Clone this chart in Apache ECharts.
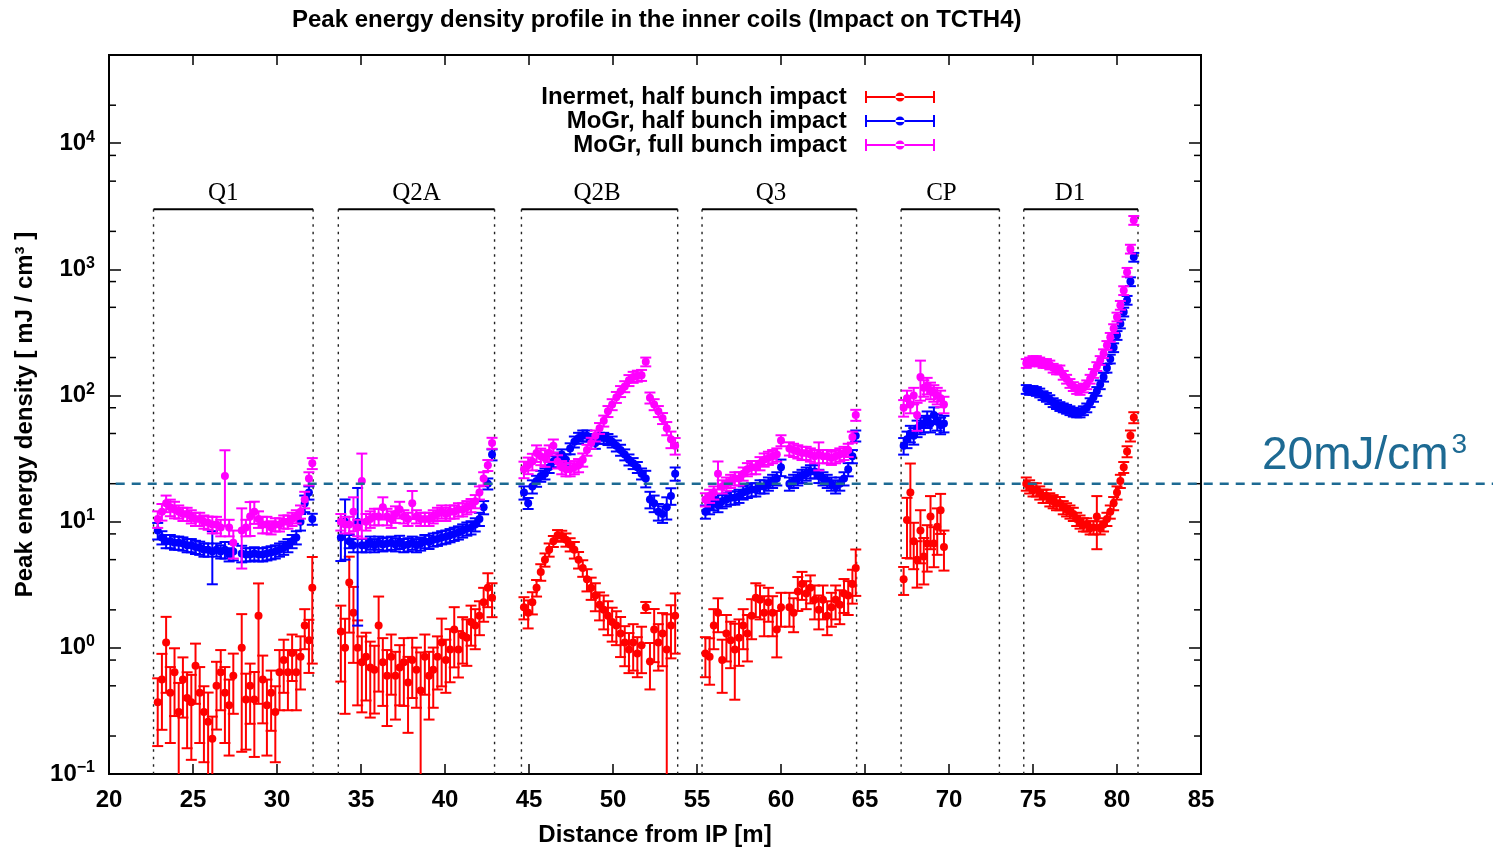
<!DOCTYPE html>
<html><head><meta charset="utf-8">
<script src="https://cdn.jsdelivr.net/npm/echarts@6/dist/echarts.min.js"></script>
<style>html,body{margin:0;padding:0;background:#fff}#chart{width:1493px;height:848px}</style>
</head><body><div id="chart"></div>
<script>
// ---------- DATA ----------
const seriesNames = ['Inermet, half bunch impact', 'MoGr, half bunch impact', 'MoGr, full bunch impact'];
const seriesColors = ['#ff0000', '#0000ff', '#ff00ff'];

const magnetNames = ['Q1', 'Q2A', 'Q2B', 'Q3', 'CP', 'D1'];
const magnetStart = [22.65, 33.65, 44.55, 55.3, 67.15, 74.45];
const magnetEnd   = [32.15, 42.95, 53.85, 64.5, 73.0, 81.25];
const magnetLabelAt = [26.8, 38.3, 49.05, 59.4, 69.55, 77.2];
const magnetLevel = 3000;

const yMinorTicks = [0.2, 0.5, 0.8, 2, 5, 8, 20, 50, 80, 200, 500, 800, 2000, 5000, 8000, 20000];
const thresholdValue = 20;
const thresholdStart = 20.4;
const thresholdText = '20mJ/cm';
const thresholdSup = '3';

// Q1
const distQ1 = [22.9,23.15,23.4,23.65,23.9,24.15,24.4,24.65,24.9,25.15,25.4,25.65,25.9,26.15,26.4,26.65,26.9,27.15,27.4,
  27.9,28.15,28.4,28.65,28.9,29.15,29.4,29.65,29.9,30.15,30.4,30.65,30.9,31.15,31.4,31.65,31.9,32.1];
const inermetQ1 = [0.37,0.56,1.1,0.44,0.64,0.31,0.56,0.4,0.37,0.72,0.44,0.31,0.26,0.19,0.5,0.64,0.44,0.35,0.6,
  1.0,0.39,0.5,0.39,1.8,0.56,0.35,0.44,0.31,0.64,0.8,0.64,0.91,0.64,0.85,1.5,1.15,3.0];
const inermetErrQ1 = [0.55,0.6,0.6,0.6,0.55,0.7,0.5,0.6,0.65,0.5,0.6,0.6,0.7,0.5,0.55,0.5,0.6,0.6,0.5,
  0.85,0.6,0.5,0.65,0.8,0.55,0.6,0.5,0.6,0.5,0.45,0.5,0.4,0.5,0.45,0.35,0.45,0.75];
const mogrHalfQ1 = [8.5,7.5,7,7,6.8,6.8,6.7,6.5,6.5,6.3,6.2,6,6,5.8,6,5.8,6,5.5,5.8,
  5.6,5.5,5.5,5.6,5.5,5.5,5.6,5.7,5.8,6,6.2,6.5,7,7.5,10,14,17,10.5];
const mogrHalfErrQ1 = [0.15,0.12,0.12,0.12,0.12,0.12,0.12,0.12,0.12,0.12,0.12,0.12,0.12,0.45,0.12,0.12,0.15,0.12,0.15,
  0.15,0.12,0.12,0.12,0.12,0.12,0.12,0.12,0.12,0.12,0.12,0.12,0.12,0.12,0.15,0.15,0.12,0.1];
const mogrFullQ1 = [10.5,12,14,13,12.5,12,11.5,11.5,11,10.5,10.5,10,9.8,9.5,9.5,9,23,9,6.8,
  8.5,9,11,12,10.5,9.5,9.5,9,9.5,9.5,10,10,10.5,11,12,15,22,29];
const mogrFullErrQ1 = [0.15,0.15,0.15,0.15,0.15,0.12,0.12,0.12,0.12,0.12,0.12,0.12,0.12,0.15,0.15,0.15,0.6,0.15,0.25,
  0.5,0.15,0.3,0.2,0.15,0.15,0.15,0.12,0.12,0.12,0.12,0.12,0.12,0.12,0.12,0.15,0.12,0.1];

// Q2A
const distQ2A = [33.8,34.05,34.3,34.55,34.8,35.05,35.3,35.55,35.8,36.05,36.3,36.55,36.8,37.05,37.3,37.55,37.8,38.05,38.3,
  38.55,38.8,39.05,39.3,39.55,39.8,40.05,40.3,40.55,40.8,41.05,41.3,41.55,41.8,42.05,42.3,42.55,42.8];
const inermetQ2A = [1.35,1.0,3.3,1.9,1.0,0.77,0.85,0.7,0.67,1.5,0.77,0.6,0.85,0.6,0.7,0.77,0.53,0.8,0.67,
  0.46,0.85,0.6,0.67,0.85,1.1,0.8,0.97,1.4,0.97,1.25,1.2,1.6,1.5,1.8,2.3,3.0,2.5];
const inermetErrQ2A = [0.6,0.7,0.6,0.6,0.65,0.6,0.55,0.6,0.55,0.7,0.55,0.6,0.5,0.55,0.5,0.55,0.6,0.5,0.5,
  1.0,0.5,0.55,0.5,0.45,0.55,0.45,0.45,0.5,0.4,0.4,0.4,0.35,0.35,0.3,0.3,0.3,0.3];
const mogrHalfQ2A = [7.5,10,7,6.5,10,6.5,6.5,6.8,6.5,6.8,6.6,6.7,6.8,6.6,6.9,6.5,6.6,6.8,6.5,
  6.7,7,6.9,7.2,7.3,7.5,7.6,7.8,8,8.2,8.5,8.8,9,9.5,10.5,13,20,34];
const mogrHalfErrQ2A = [0.35,0.5,0.12,0.12,0.85,0.12,0.12,0.12,0.12,0.12,0.12,0.12,0.12,0.12,0.12,0.12,0.12,0.12,0.12,
  0.12,0.12,0.12,0.12,0.12,0.12,0.12,0.12,0.12,0.12,0.12,0.12,0.12,0.12,0.12,0.12,0.1,0.1];
const mogrFullQ2A = [10,9.5,9.5,12,9,21,10,10.5,11,11,13,11,10.5,11.5,12.5,11,10.5,14,11,
  10.5,10.5,10.5,11,11.5,12,11.5,12,12,12.5,12.5,13,13.5,14.5,17,22,28,42];
const mogrFullErrQ2A = [0.15,0.15,0.15,0.3,0.15,0.65,0.15,0.15,0.15,0.15,0.2,0.15,0.15,0.15,0.15,0.12,0.12,0.25,0.12,
  0.12,0.12,0.12,0.12,0.12,0.12,0.12,0.12,0.12,0.12,0.12,0.12,0.12,0.12,0.12,0.12,0.1,0.1];

// Q2B
const distQ2B = [44.7,44.95,45.2,45.45,45.7,45.95,46.2,46.45,46.7,46.95,47.2,47.45,47.7,47.95,48.2,48.45,48.7,48.95,49.2,
  49.45,49.7,49.95,50.2,50.45,50.7,50.95,51.2,51.45,51.7,51.95,52.2,52.45,52.7,52.95,53.2,53.45,53.7];
const inermetQ2B = [2.1,1.9,2.3,3.0,4.0,5.0,6.0,7.0,7.8,7.7,7.2,6.6,6.0,5.0,4.3,3.5,3.0,2.6,2.2,
  2.0,1.8,1.6,1.5,1.3,1.1,0.97,1.1,0.9,1.05,2.1,0.78,1.4,1.1,1.3,0.97,1.5,1.8];
const inermetErrQ2B = [0.2,0.25,0.2,0.15,0.15,0.12,0.12,0.1,0.1,0.1,0.12,0.12,0.15,0.15,0.15,0.2,0.2,0.25,0.25,
  0.3,0.3,0.3,0.3,0.35,0.35,0.35,0.4,0.35,0.4,0.1,0.4,0.45,0.4,0.45,0.9,0.45,0.5];
const mogrHalfQ2B = [17,14,19,21,23,24,27,30,32,34,31,38,43,46,48,48,45,42,46,
  46,45,43,40,37,34,31,29,27,24,22,15,14,12,11.5,13,16,24];
const mogrHalfErrQ2B = [0.12,0.1,0.12,0.1,0.1,0.1,0.1,0.1,0.1,0.1,0.1,0.1,0.1,0.1,0.1,0.1,0.1,0.1,0.1,
  0.1,0.1,0.1,0.1,0.1,0.1,0.1,0.1,0.1,0.1,0.15,0.15,0.15,0.15,0.15,0.2,0.15,0.12];
const mogrFullQ2B = [26,28,30,35,33,32,35,40,30,27,26,26,27,28,31,37,42,48,55,
  63,75,85,97,108,118,132,140,143,145,185,96,85,75,66,55,45,40];
const mogrFullErrQ2B = [0.15,0.15,0.15,0.15,0.15,0.15,0.15,0.12,0.12,0.12,0.12,0.12,0.12,0.12,0.12,0.1,0.1,0.1,0.1,
  0.1,0.1,0.1,0.1,0.1,0.1,0.1,0.1,0.1,0.1,0.08,0.1,0.1,0.1,0.1,0.12,0.15,0.15];

// Q3
const distQ3 = [55.5,55.75,56.0,56.25,56.5,56.75,57.0,57.25,57.5,57.75,58.0,58.25,58.5,58.75,59.0,59.25,59.5,59.75,60.0,
  60.5,60.75,61.0,61.25,61.5,61.75,62.0,62.25,62.5,62.75,63.0,63.25,63.5,63.75,64.0,64.25,64.45];
const inermetQ3 = [0.9,0.85,1.5,1.9,0.8,1.3,1.15,0.97,1.2,1.5,1.3,1.8,2.5,2.4,1.9,2.3,1.9,1.4,2.1,
  2.1,1.9,2.8,3.2,2.7,3.0,2.4,2.0,2.4,1.8,2.1,2.4,2.2,2.7,2.6,3.2,4.3];
const inermetErrQ3 = [0.35,0.4,0.35,0.3,0.45,0.4,0.4,0.6,0.4,0.35,0.4,0.35,0.3,0.3,0.35,0.3,0.35,0.4,0.3,
  0.3,0.3,0.3,0.25,0.25,0.25,0.3,0.3,0.3,0.3,0.3,0.3,0.3,0.3,0.3,0.3,0.4];
const mogrHalfQ3 = [12,13,14,13.5,14.5,15,15.5,15.5,16,17,17.5,18,18,19,19,20,21,22,27,
  20,21,22,23,24,25,25,23,22,21,20,19,20,22,26,33,48];
const mogrHalfErrQ3 = [0.12,0.12,0.12,0.12,0.12,0.12,0.12,0.12,0.12,0.12,0.12,0.12,0.12,0.12,0.12,0.12,0.12,0.12,0.15,
  0.12,0.12,0.12,0.12,0.12,0.12,0.12,0.12,0.12,0.12,0.12,0.12,0.12,0.12,0.12,0.12,0.1];
const mogrFullQ3 = [15,16,17,24,19,20,21,22,22,24,26,27,27,29,31,32,33,34,44,
  38,37,36,35,35,34,33,34,33,33,32,33,34,35,37,47,70];
const mogrFullErrQ3 = [0.12,0.12,0.12,0.25,0.12,0.12,0.12,0.12,0.12,0.12,0.12,0.12,0.12,0.12,0.12,0.12,0.12,0.12,0.1,
  0.12,0.12,0.12,0.12,0.12,0.12,0.12,0.25,0.12,0.12,0.12,0.12,0.12,0.12,0.12,0.1,0.1];

// CP
const distCP = [67.3,67.5,67.7,67.9,68.1,68.3,68.5,68.7,68.9,69.1,69.3,69.5,69.7];
const inermetCP = [3.5,10.3,17,7,5,8.5,5.3,6.7,11,6.7,9.1,12.3,6.3];
const inermetErrCP = [0.25,0.5,0.7,0.4,0.4,0.45,0.4,0.4,0.45,0.35,0.4,0.35,0.35];
const mogrHalfCP = [40,45,50,48,55,58,60,65,60,70,62,58,60];
const mogrHalfErrCP = [0.15,0.15,0.15,0.15,0.15,0.15,0.15,0.15,0.15,0.15,0.15,0.15,0.15];
const mogrFullCP = [80,95,85,100,70,140,115,120,110,105,100,95,85];
const mogrFullErrCP = [0.15,0.15,0.15,0.15,0.25,0.35,0.15,0.15,0.15,0.15,0.15,0.15,0.15];

// D1
const distD1 = [74.6,74.8,75.0,75.2,75.4,75.6,75.8,76.0,76.2,76.4,76.6,76.8,77.0,77.2,77.4,77.6,77.8,78.0,78.2,
  78.4,78.6,78.8,79.0,79.2,79.4,79.6,79.8,80.0,80.2,80.4,80.6,80.8,81.0];
const inermetD1 = [20,19,18,18,17,16,16,15,14.5,14,14,13,12.5,12,11.5,10.5,10,9.5,9.5,
  9,9,11,9,9.5,10.5,12,14,17,21,27,36,48,67];
const inermetErrD1 = [0.12,0.12,0.12,0.12,0.12,0.12,0.12,0.12,0.12,0.12,0.12,0.12,0.12,0.12,0.12,0.12,0.12,0.12,0.12,
  0.12,0.12,0.45,0.12,0.12,0.12,0.12,0.12,0.12,0.12,0.1,0.1,0.1,0.1];
const mogrHalfD1 = [112,110,110,108,105,100,97,93,88,85,82,80,78,76,74,73,73,76,80,
  88,97,108,122,140,165,195,240,300,370,460,570,800,1250];
const mogrHalfErrD1 = [0.08,0.08,0.08,0.08,0.08,0.08,0.08,0.08,0.08,0.08,0.08,0.08,0.08,0.08,0.08,0.08,0.08,0.08,0.08,
  0.08,0.08,0.08,0.08,0.08,0.08,0.08,0.08,0.08,0.08,0.08,0.08,0.08,0.08];
const mogrFullD1 = [180,185,190,190,185,180,180,175,165,160,160,145,135,125,118,112,110,115,122,
  135,150,170,190,215,250,290,340,420,520,680,950,1450,2450];
const mogrFullErrD1 = [0.08,0.08,0.08,0.08,0.08,0.08,0.08,0.08,0.08,0.08,0.08,0.08,0.08,0.08,0.08,0.08,0.08,0.08,0.08,
  0.08,0.08,0.08,0.08,0.08,0.08,0.08,0.08,0.08,0.08,0.08,0.08,0.08,0.08];

// ---------- BUILD ----------
const sections = [
  [distQ1, [inermetQ1, inermetErrQ1], [mogrHalfQ1, mogrHalfErrQ1], [mogrFullQ1, mogrFullErrQ1]],
  [distQ2A, [inermetQ2A, inermetErrQ2A], [mogrHalfQ2A, mogrHalfErrQ2A], [mogrFullQ2A, mogrFullErrQ2A]],
  [distQ2B, [inermetQ2B, inermetErrQ2B], [mogrHalfQ2B, mogrHalfErrQ2B], [mogrFullQ2B, mogrFullErrQ2B]],
  [distQ3, [inermetQ3, inermetErrQ3], [mogrHalfQ3, mogrHalfErrQ3], [mogrFullQ3, mogrFullErrQ3]],
  [distCP, [inermetCP, inermetErrCP], [mogrHalfCP, mogrHalfErrCP], [mogrFullCP, mogrFullErrCP]],
  [distD1, [inermetD1, inermetErrD1], [mogrHalfD1, mogrHalfErrD1], [mogrFullD1, mogrFullErrD1]]
];
function buildData(k) {
  const out = [];
  sections.forEach(sec => {
    const dist = sec[0], vals = sec[k + 1][0], errs = sec[k + 1][1];
    dist.forEach((x, i) => {
      const v = vals[i];
      if (v == null) return;
      const e = (errs[i] == null ? 0.1 : errs[i]) * v;
      out.push([x, v, v - e, v + e]);
    });
  });
  return out;
}

const FONT = '"Liberation Sans", Arial, Helvetica, sans-serif';
const SERIF = '"Liberation Serif", "Times New Roman", serif';
const THR_COLOR = '#1d6a93';

function errRenderer(color) {
  return function (params, api) {
    const cs = params.coordSys;
    const x = api.value(0), y = api.value(1), lo = api.value(2), hi = api.value(3);
    const p = api.coord([x, y]);
    const pHi = api.coord([x, hi]);
    const loOk = lo > 0;
    const yLo = loOk ? api.coord([x, lo])[1] : cs.y + cs.height + 40;
    const st = { stroke: color, lineWidth: 2, fill: null };
    const cap = 5.5;
    const children = [
      { type: 'line', shape: { x1: p[0], y1: pHi[1], x2: p[0], y2: yLo }, style: st },
      { type: 'line', shape: { x1: p[0] - cap, y1: pHi[1], x2: p[0] + cap, y2: pHi[1] }, style: st },
      { type: 'circle', shape: { cx: p[0], cy: p[1], r: 4 }, style: { fill: color } }
    ];
    if (loOk) children.push({ type: 'line', shape: { x1: p[0] - cap, y1: yLo, x2: p[0] + cap, y2: yLo }, style: st });
    return { type: 'group', children };
  };
}

function magnetRenderer(params, api) {
  const cs = params.coordSys;
  const i = api.value(2);
  const s = api.coord([api.value(0), magnetLevel]);
  const e = api.coord([api.value(1), magnetLevel]);
  const t = api.coord([api.value(3), magnetLevel]);
  const bottom = cs.y + cs.height;
  const dot = { stroke: '#222', lineWidth: 1.4, lineDash: [2.5, 5] };
  return {
    type: 'group',
    children: [
      { type: 'line', shape: { x1: s[0], y1: s[1], x2: s[0], y2: bottom }, style: dot },
      { type: 'line', shape: { x1: e[0], y1: s[1], x2: e[0], y2: bottom }, style: dot },
      { type: 'line', shape: { x1: s[0], y1: s[1], x2: e[0], y2: e[1] }, style: { stroke: '#000', lineWidth: 2 } },
      { type: 'text', x: t[0], y: s[1] - 3,
        style: { text: magnetNames[i], font: '25px ' + SERIF, fill: '#000', align: 'center', verticalAlign: 'bottom' } }
    ]
  };
}

function minorTickRenderer(params, api) {
  const cs = params.coordSys;
  const y = api.coord([api.value(0), api.value(1)])[1];
  const st = { stroke: '#000', lineWidth: 1.5 };
  return {
    type: 'group',
    children: [
      { type: 'line', shape: { x1: cs.x, y1: y, x2: cs.x + 7, y2: y }, style: st },
      { type: 'line', shape: { x1: cs.x + cs.width - 7, y1: y, x2: cs.x + cs.width, y2: y }, style: st }
    ]
  };
}

const errIcon = 'path://M0,0h2v12h-2z M0,5h70v2h-70z M68,0h2v12h-2z M30.5,6a4.5,4.5 0 1,0 9,0a4.5,4.5 0 1,0 -9,0z';

function yLabel(v) {
  const l = Math.log10(v), e = Math.round(l);
  if (Math.abs(l - e) > 1e-6) return '';
  return '{b|10}{s|' + (e < 0 ? '\u2212' + (-e) : e) + '}';
}

const chart = echarts.init(document.getElementById('chart'), null, { renderer: 'canvas' });

const option = {
  animation: false,
  backgroundColor: '#fff',
  title: {
    text: 'Peak energy density profile in the inner coils (Impact on TCTH4)',
    left: 287, top: 3,
    textStyle: { fontFamily: FONT, fontWeight: 'bold', fontSize: 24, color: '#000' }
  },
  legend: {
    orient: 'vertical', align: 'right', right: 553, top: 80,
    itemWidth: 70, itemHeight: 12, itemGap: 0,
    selectedMode: false,
    formatter: n => n + '  ',
    textStyle: { fontFamily: FONT, fontWeight: 'bold', fontSize: 24, color: '#000' },
    data: seriesNames.map(n => ({ name: n, icon: errIcon }))
  },
  grid: {
    left: 109, right: 292, top: 55, bottom: 74,
    show: true, borderColor: '#000', borderWidth: 2, backgroundColor: 'transparent',
    outerBoundsMode: 'none', containLabel: false
  },
  xAxis: [
    {
      type: 'value', min: 20, max: 85, interval: 5, position: 'bottom',
      name: 'Distance from IP [m]', nameLocation: 'middle', nameGap: 49,
      nameTextStyle: { fontFamily: FONT, fontWeight: 'bold', fontSize: 24, color: '#000' },
      axisLine: { show: true, lineStyle: { color: '#000', width: 2 } },
      axisTick: { show: true, inside: true, length: 10, lineStyle: { color: '#000', width: 1.5 } },
      axisLabel: { fontFamily: FONT, fontWeight: 'bold', fontSize: 24, color: '#000', margin: 14 },
      splitLine: { show: false }
    },
    {
      type: 'value', min: 20, max: 85, interval: 5, position: 'top',
      axisLine: { show: true, lineStyle: { color: '#000', width: 2 } },
      axisTick: { show: true, inside: true, length: 10, lineStyle: { color: '#000', width: 1.5 } },
      axisLabel: { show: false },
      splitLine: { show: false }
    }
  ],
  yAxis: [
    {
      type: 'log', logBase: 10, min: 0.1, max: 50000, position: 'left',
      name: 'Peak energy density [ mJ / cm³ ]', nameLocation: 'middle', nameGap: 72,
      nameTextStyle: { fontFamily: FONT, fontWeight: 'bold', fontSize: 24, color: '#000' },
      axisLine: { show: true, lineStyle: { color: '#000', width: 2 } },
      axisTick: { show: true, inside: true, length: 12, lineStyle: { color: '#000', width: 1.5 } },
      axisLabel: {
        formatter: yLabel, margin: 14,
        rich: {
          b: { fontFamily: FONT, fontWeight: 'bold', fontSize: 24, color: '#000' },
          s: { fontFamily: FONT, fontWeight: 'bold', fontSize: 16, color: '#000', verticalAlign: 'top', padding: [0, 0, 12, 0] }
        }
      },
      splitLine: { show: false }
    },
    {
      type: 'log', logBase: 10, min: 0.1, max: 50000, position: 'right',
      axisLine: { show: true, lineStyle: { color: '#000', width: 2 } },
      axisTick: { show: true, inside: true, length: 12, lineStyle: { color: '#000', width: 1.5 } },
      axisLabel: { show: false },
      splitLine: { show: false }
    }
  ],
  series: [
    {
      type: 'custom', name: 'minorTicks', silent: true, clip: false,
      renderItem: minorTickRenderer,
      encode: { x: 0, y: 1 },
      data: yMinorTicks.map(v => [20, v]),
      z: 5
    },
    {
      type: 'custom', name: 'magnets', silent: true, clip: false,
      renderItem: magnetRenderer,
      encode: { x: [0, 1] },
      data: magnetNames.map((n, i) => [magnetStart[i], magnetEnd[i], i, magnetLabelAt[i]]),
      z: 1
    }
  ].concat(seriesNames.map((n, k) => ({
    type: 'custom', name: n, clip: true,
    itemStyle: { color: seriesColors[k] },
    renderItem: errRenderer(seriesColors[k]),
    encode: { x: 0, y: 1 },
    data: buildData(k),
    z: 2 + k
  })))
};
chart.setOption(option);

const yThr = chart.convertToPixel({ yAxisIndex: 0 }, thresholdValue);
const xThr = chart.convertToPixel({ xAxisIndex: 0 }, thresholdStart);
chart.setOption({
  graphic: [
    { type: 'line', z: 100, shape: { x1: xThr, y1: yThr, x2: 1493, y2: yThr },
      style: { stroke: THR_COLOR, lineWidth: 2.5, lineDash: [9, 7] } },
    { type: 'text', z: 100, x: 1262, y: yThr - 2,
      style: {
        text: '{a|' + thresholdText + '}{s|' + thresholdSup + '}',
        fill: THR_COLOR,
        verticalAlign: 'bottom',
        rich: {
          a: { fontFamily: FONT, fontSize: 46, fill: THR_COLOR, lineHeight: 50 },
          s: { fontFamily: FONT, fontSize: 28, fill: THR_COLOR, verticalAlign: 'top', padding: [0, 0, 0, 3] }
        }
      } }
  ]
});
</script>
</body></html>
